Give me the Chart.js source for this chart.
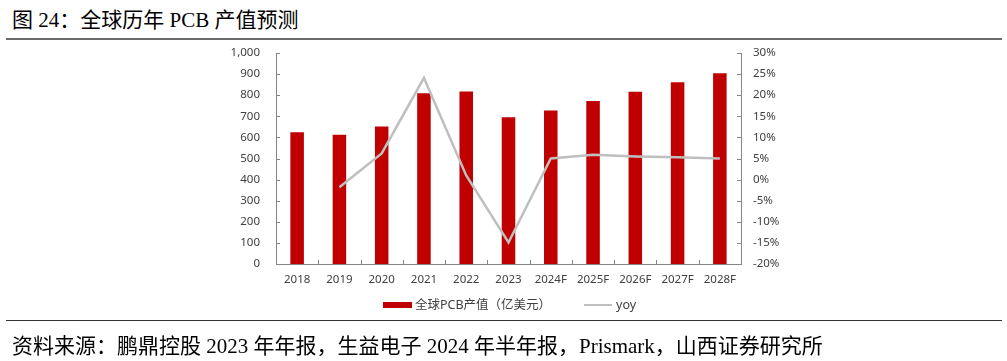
<!DOCTYPE html>
<html>
<head>
<meta charset="utf-8">
<script src="https://cdn.jsdelivr.net/npm/chart.js@4/dist/chart.umd.min.js"></script>
<style>
  html, body { margin: 0; padding: 0; background: #fff; }
  body { width: 1007px; height: 361px; position: relative; overflow: hidden; }
  #c { position: absolute; left: 0; top: 0; }
  .title { position: absolute; left: 12px; top: 3px; font-family: "Liberation Serif", "Noto Sans CJK SC", serif; font-size: 21px; color: #000; white-space: nowrap; }
  .source { position: absolute; left: 12px; top: 329px; font-family: "Liberation Serif", "Noto Sans CJK SC", serif; font-size: 21px; color: #000; white-space: nowrap; }
  .hr1 { position: absolute; left: 6px; width: 996px; top: 38px; height: 2px; background: #6b6b6b; }
  .hr2 { position: absolute; left: 6px; width: 996px; top: 320px; height: 1px; background: #333; }
  .legend { position: absolute; top: 296px; left: 0; font-family: "Noto Sans", "Noto Sans CJK SC", sans-serif; font-size: 12.5px; color: #404040; }
  .lg { position: absolute; white-space: nowrap; }
</style>
</head>
<body>
<div class="title">图 24：全球历年 PCB 产值预测</div>
<div class="hr1"></div>
<canvas id="c" width="1007" height="361"></canvas>
<div class="legend">
  <div class="lg" style="left:383px;top:6px;width:29px;height:6px;background:#C00000;"></div>
  <div class="lg" style="left:415px;top:0px;line-height:18px;">全球PCB产值（亿美元）</div>
  <div class="lg" style="left:584px;top:8px;width:28px;height:2px;background:#BFBFBF;"></div>
  <div class="lg" style="left:616px;top:0px;line-height:18px;">yoy</div>
</div>
<div class="hr2"></div>
<div class="source">资料来源：鹏鼎控股 2023 年年报，生益电子 2024 年半年报，Prismark，山西证券研究所</div>
<script>
const categories = ["2018", "2019", "2020", "2021", "2022", "2023", "2024F", "2025F", "2026F", "2027F", "2028F"];
const pcbValue = [624, 613, 652, 809, 817, 695, 728, 773, 816, 861, 904];
const yoyPercent = [null, -1.8, 6.2, 24.1, 1.0, -14.9, 5.0, 5.9, 5.5, 5.3, 5.0];
const leftTicks = [0, 100, 200, 300, 400, 500, 600, 700, 800, 900, 1000];
const rightTicks = [-20, -15, -10, -5, 0, 5, 10, 15, 20, 25, 30];

const AXIS_COLOR = '#868686';
const LABEL_COLOR = '#404040';
const tickFont = { family: '"Noto Sans", sans-serif', size: 11.5 };

const insideTicks = {
  id: 'insideTicks',
  afterDraw(chart) {
    const ctx = chart.ctx;
    const a = chart.chartArea;
    ctx.save();
    ctx.strokeStyle = AXIS_COLOR;
    ctx.lineWidth = 1;
    const yl = chart.scales.y;
    const yr = chart.scales.y1;
    const len = 4;
    ctx.beginPath();
    leftTicks.forEach(v => {
      const py = Math.round(yl.getPixelForValue(v)) + 0.5;
      ctx.moveTo(a.left, py); ctx.lineTo(a.left + len, py);
    });
    rightTicks.forEach(v => {
      const py = Math.round(yr.getPixelForValue(v)) + 0.5;
      ctx.moveTo(a.right, py); ctx.lineTo(a.right - len, py);
    });
    const n = categories.length;
    for (let i = 1; i < n; i++) {
      const px = Math.round(a.left + i * (a.right - a.left) / n) + 0.5;
      ctx.moveTo(px, a.bottom); ctx.lineTo(px, a.bottom - len);
    }
    ctx.stroke();
    ctx.restore();
  }
};

new Chart(document.getElementById('c'), {
  data: {
    labels: categories,
    datasets: [
      {
        type: 'line',
        label: 'yoy',
        data: yoyPercent,
        yAxisID: 'y1',
        borderColor: '#BFBFBF',
        borderWidth: 2.5,
        pointRadius: 0,
        tension: 0,
        order: 0
      },
      {
        type: 'bar',
        label: '全球PCB产值（亿美元）',
        data: pcbValue,
        yAxisID: 'y',
        backgroundColor: '#C00000',
        barPercentage: 0.32,
        categoryPercentage: 1.0,
        order: 1
      }
    ]
  },
  options: {
    responsive: false,
    maintainAspectRatio: false,
    animation: false,
    devicePixelRatio: 1,
    layout: { padding: { top: 53, bottom: 0, left: 0, right: 0 } },
    plugins: { legend: { display: false }, tooltip: { enabled: false } },
    scales: {
      x: {
        grid: { display: false, drawTicks: false },
        border: { display: true, color: AXIS_COLOR },
        ticks: { color: LABEL_COLOR, font: tickFont, padding: 9, maxRotation: 0, autoSkip: false },
        afterFit: s => { s.height = 97; }
      },
      y: {
        position: 'left',
        min: 0, max: 1000,
        grid: { display: false, drawTicks: false },
        border: { display: true, color: AXIS_COLOR },
        ticks: {
          stepSize: 100, color: LABEL_COLOR, font: tickFont, padding: 16,
          callback: v => v.toLocaleString('en-US')
        },
        afterFit: s => { s.width = 276; }
      },
      y1: {
        position: 'right',
        min: -20, max: 30,
        grid: { display: false, drawTicks: false },
        border: { display: true, color: AXIS_COLOR },
        ticks: { stepSize: 5, color: LABEL_COLOR, font: tickFont, padding: 12, callback: v => v + '%' },
        afterFit: s => { s.width = 266; }
      }
    }
  },
  plugins: [insideTicks]
});
</script>
</body>
</html>
